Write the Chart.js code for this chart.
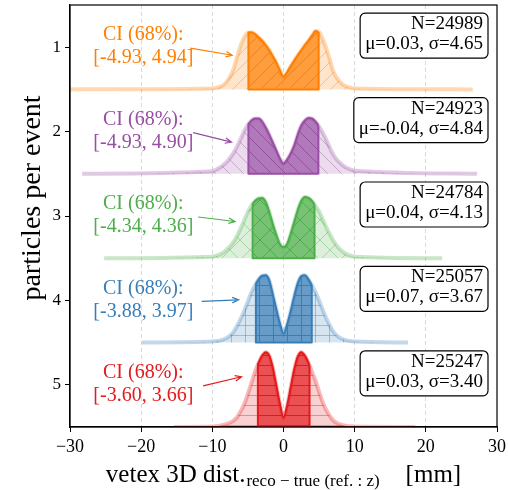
<!DOCTYPE html>
<html>
<head>
<meta charset="utf-8">
<script src="https://cdn.jsdelivr.net/npm/chart.js@4/dist/chart.umd.min.js"></script>
<style>
  html, body { margin: 0; padding: 0; background: #fff; }
  canvas { display: block; }
</style>
</head>
<body>
<canvas id="ridge" width="508" height="490"></canvas>
<script>
// Particles per event, one ridge per row (top to bottom)
const rowLabels = [1, 2, 3, 4, 5];

// Sample positions (mm) of the smoothed residual distributions
const gridX = [-10, -9.5, -9, -8.5, -8, -7.5, -7, -6.5, -6, -5.5, -5, -4.5, -4, -3.5, -3, -2.5, -2, -1.5, -1, -0.5,
               0, 0.5, 1, 1.5, 2, 2.5, 3, 3.5, 4, 4.5, 5, 5.5, 6, 6.5, 7, 7.5, 8, 8.5, 9, 9.5, 10];

// Relative density of the vertex residual at each gridX sample
const density1 = [1, 1.5, 2.5, 4, 7.5, 13, 21, 33, 44, 52, 56.5, 57, 55, 52, 48.5, 44, 39, 33, 26.5, 19,
                  12.5, 17, 23, 28.5, 34, 39, 44, 48.5, 53.5, 58, 57, 50.5, 41, 30, 18, 11.5, 7, 4, 2.5, 1.5, 1];
const density2 = [2.5, 4, 6, 8.5, 11.5, 16, 21, 27.5, 35, 43, 49, 53, 55, 55, 52, 46, 39, 31, 23, 15,
                  10, 14, 20, 28, 39, 48, 53, 55.5, 55, 52, 47, 41, 34, 26, 19, 14, 10.5, 7.5, 5.5, 4, 3];
const density3 = [1.5, 2.5, 3.5, 5.5, 8.5, 12, 16.5, 22.5, 30, 38, 46, 52.5, 57, 59.5, 60, 56, 46, 34, 23, 14,
                  11, 14, 24, 36, 48, 57, 61, 60, 57, 52, 46.5, 39, 31, 24, 17.5, 12.5, 8.5, 5.5, 3.5, 2.5, 1.5];
const density4 = [1, 1.5, 2, 3, 4.5, 7, 11, 17, 24, 32, 41, 50, 57, 63, 66.5, 67, 62, 48, 33, 19,
                  9, 18, 31, 46, 59, 66, 67, 63, 57, 50, 42, 33, 24.5, 17, 11, 7, 4.5, 3, 2, 1.5, 1];
const density5 = [0.5, 0.8, 1.2, 2, 3, 4.5, 6.5, 10, 16, 23, 33, 44, 55, 64, 71, 74.5, 71, 59, 41, 23,
                  9.5, 21, 39, 57, 70, 74.5, 71, 64, 55, 46, 35, 25, 17, 11, 6.5, 4, 2.5, 1.5, 1, 0.7, 0.5];
const densities = [density1, density2, density3, density4, density5];

// Full extent of each sample (mm)
const rangeLow  = [-32, -28.3, -25.2, -19.9, -15.4];
const rangeHigh = [26.6, 27.2, 22.3, 17.5, 18.5];

// 68% confidence intervals (mm)
const ciLow  = [-4.93, -4.93, -4.34, -3.88, -3.60];
const ciHigh = [4.94, 4.90, 4.36, 3.97, 3.66];

// Summary statistics per row
const nEvents = [24989, 24923, 24784, 25057, 25247];
const meanMu  = [0.03, -0.04, 0.04, 0.07, 0.03];
const sigmas  = [4.65, 4.84, 4.13, 3.67, 3.40];

// x-axis tick values (mm)
const xTicks = [-30, -20, -10, 0, 10, 20, 30];

// ---- styling ----
const colors  = ['#ff7f00', '#984ea3', '#4daf4a', '#377eb8', '#e41a1c'];
const hatches = ['/', '\\', 'x', '+', '-'];
const SERIF = '"Liberation Serif", "Times New Roman", serif';
const ridgeScale = 1 / 84;   // density units -> row units
const baseOffset = 0.5;      // ridge baseline sits half a row below its tick

// Callout geometry (axis units): arrow start x, arrow tip x, tip shift in rows
const callouts = [
  { fromX: -13.1, toX: -7.2, dy: 0.095 },
  { fromX: -12.7, toX: -7.3, dy: 0.125 },
  { fromX: -12.0, toX: -6.8, dy: 0.065 },
  { fromX: -11.5, toX: -6.3, dy: -0.006 },
  { fromX: -11.3, toX: -5.9, dy: -0.095 }
];
const labelCenterX = -19.7;

function rgba(hex, a) {
  const n = parseInt(hex.slice(1), 16);
  return `rgba(${(n >> 16) & 255},${(n >> 8) & 255},${n & 255},${a})`;
}

function hatchFill(kind, bg, line) {
  let w = 14, h = 14;
  if (kind === '+' || kind === '-') h = 10;
  if (kind === 'x') { w = 20; h = 20; }
  const c = document.createElement('canvas');
  c.width = w; c.height = h;
  const g = c.getContext('2d');
  g.fillStyle = bg;
  g.fillRect(0, 0, w, h);
  g.strokeStyle = line;
  g.lineWidth = 1;
  g.beginPath();
  const ne = () => { for (let k = -1; k <= 1; k++) { g.moveTo(k * w, h); g.lineTo(k * w + w, 0); } };
  const se = () => { for (let k = -1; k <= 1; k++) { g.moveTo(k * w, 0); g.lineTo(k * w + w, h); } };
  const vx = () => { g.moveTo(Math.floor(w / 2) + 0.5, 0); g.lineTo(Math.floor(w / 2) + 0.5, h); };
  const hz = () => { g.moveTo(0, Math.floor(h / 2) + 0.5); g.lineTo(w, Math.floor(h / 2) + 0.5); };
  if (kind === '/') ne();
  if (kind === '\\') se();
  if (kind === 'x') { ne(); se(); }
  if (kind === '+') { vx(); hz(); }
  if (kind === '-') hz();
  g.stroke();
  return g.createPattern(c, 'repeat');
}

function densityAt(dens, x) {
  for (let j = 0; j < gridX.length - 1; j++) {
    if (x >= gridX[j] && x <= gridX[j + 1]) {
      const t = (x - gridX[j]) / (gridX[j + 1] - gridX[j]);
      return dens[j] + t * (dens[j + 1] - dens[j]);
    }
  }
  return 0;
}

const datasets = [];
rowLabels.forEach((row, i) => {
  const base = row + baseOffset;
  const dens = densities[i];
  const col = colors[i];

  // full distribution
  const full = [{ x: rangeLow[i], y: base }];
  gridX.forEach((x, j) => full.push({ x, y: base - dens[j] * ridgeScale }));
  full.push({ x: rangeHigh[i], y: base });
  datasets.push({
    data: full,
    borderColor: rgba(col, 0.3),
    borderWidth: 4,
    backgroundColor: hatchFill(hatches[i], rgba(col, 0.2), rgba(col, 0.4)),
    fill: { value: base },
    pointRadius: 0,
    cubicInterpolationMode: 'monotone',
    clip: 0
  });

  // 68% interval: curve top (filled down to the baseline)
  const lo = ciLow[i], hi = ciHigh[i];
  const yLo = base - densityAt(dens, lo) * ridgeScale;
  const yHi = base - densityAt(dens, hi) * ridgeScale;
  const top = [{ x: lo, y: yLo }];
  gridX.forEach((x, j) => { if (x > lo && x < hi) top.push({ x, y: base - dens[j] * ridgeScale }); });
  top.push({ x: hi, y: yHi });
  datasets.push({
    data: top,
    borderColor: col,
    borderWidth: 2,
    borderJoinStyle: 'round',
    backgroundColor: hatchFill(hatches[i], rgba(col, 0.7), col),
    fill: { value: base },
    pointRadius: 0,
    cubicInterpolationMode: 'monotone',
    clip: 0
  });
  // side and bottom edges of the interval region
  datasets.push({
    data: [{ x: lo, y: yLo }, { x: lo, y: base }, { x: hi, y: base }, { x: hi, y: yHi }],
    borderColor: col,
    borderWidth: 2,
    borderJoinStyle: 'round',
    fill: false,
    pointRadius: 0,
    tension: 0,
    clip: 0
  });
});

const decorations = {
  id: 'decorations',
  afterDatasetsDraw(chart) {
    const { ctx, chartArea: a, scales: { x, y } } = chart;
    ctx.save();
    rowLabels.forEach((row, i) => {
      const cy = y.getPixelForValue(row);
      const col = colors[i];

      // interval callout text
      ctx.fillStyle = col;
      ctx.font = `20px ${SERIF}`;
      ctx.textAlign = 'center';
      ctx.textBaseline = 'middle';
      const lx = x.getPixelForValue(labelCenterX);
      ctx.fillText('CI (68%):', lx, cy - 12);
      ctx.fillText(`[${ciLow[i].toFixed(2)}, ${ciHigh[i].toFixed(2)}]`, lx, cy + 11);

      // arrow
      const c = callouts[i];
      const x0 = x.getPixelForValue(c.fromX), y0 = cy + 1;
      const x1 = x.getPixelForValue(c.toX), y1 = y.getPixelForValue(row + c.dy);
      const ang = Math.atan2(y1 - y0, x1 - x0);
      ctx.strokeStyle = col;
      ctx.lineWidth = 1.2;
      ctx.beginPath();
      ctx.moveTo(x0, y0); ctx.lineTo(x1, y1);
      ctx.moveTo(x1 - 7 * Math.cos(ang - 0.4), y1 - 7 * Math.sin(ang - 0.4));
      ctx.lineTo(x1, y1);
      ctx.lineTo(x1 - 7 * Math.cos(ang + 0.4), y1 - 7 * Math.sin(ang + 0.4));
      ctx.stroke();

      // statistics box
      ctx.font = `19px ${SERIF}`;
      const l1 = `N=${nEvents[i]}`;
      const l2 = `\u03bc=${meanMu[i].toFixed(2)}, \u03c3=${sigmas[i].toFixed(2)}`;
      const tw = Math.max(ctx.measureText(l1).width, ctx.measureText(l2).width);
      const right = a.right - 9, top = cy - 34, h = 45, w = tw + 10;
      ctx.beginPath();
      ctx.roundRect(right - w, top, w, h, 5);
      ctx.fillStyle = '#fff';
      ctx.fill();
      ctx.strokeStyle = '#000';
      ctx.lineWidth = 1.2;
      ctx.stroke();
      ctx.fillStyle = '#000';
      ctx.textAlign = 'right';
      ctx.fillText(l1, right - 5, top + 11);
      ctx.fillText(l2, right - 5, top + 31);
    });

    // frame
    ctx.strokeStyle = '#000';
    ctx.lineWidth = 1.2;
    ctx.strokeRect(a.left, a.top, a.right - a.left, a.bottom - a.top);
    ctx.restore();
  },
  afterDraw(chart) {
    const { ctx, chartArea: a } = chart;
    ctx.save();
    ctx.fillStyle = '#000';
    // y title
    ctx.translate(33, 198);
    ctx.rotate(-Math.PI / 2);
    ctx.font = `28px ${SERIF}`;
    ctx.textAlign = 'center';
    ctx.textBaseline = 'middle';
    ctx.fillText('particles per event', 0, 0);
    ctx.setTransform(1, 0, 0, 1, 0, 0);

    // x title with subscript
    const mainFont = `25px ${SERIF}`, subFont = `17px ${SERIF}`;
    const main = 'vetex 3D dist.', sub = 'reco \u2212 true (ref. : z)', unit = '[mm]';
    ctx.font = mainFont;
    const wMain = ctx.measureText(main).width, wUnit = ctx.measureText(unit).width;
    ctx.font = subFont;
    const wSub = ctx.measureText(sub).width;
    const gap = 26;
    const total = wMain + 1 + wSub + gap + wUnit;
    let px = (a.left + a.right) / 2 - total / 2;
    const baseY = 482;
    ctx.textAlign = 'left';
    ctx.textBaseline = 'alphabetic';
    ctx.font = mainFont;
    ctx.fillText(main, px, baseY);
    px += wMain + 1;
    ctx.font = subFont;
    ctx.fillText(sub, px, baseY + 4);
    px += wSub + gap;
    ctx.font = mainFont;
    ctx.fillText(unit, px, baseY);
    ctx.restore();
  }
};

new Chart(document.getElementById('ridge'), {
  type: 'line',
  data: { datasets },
  options: {
    responsive: false,
    animation: false,
    events: [],
    layout: { padding: { top: 5, right: 11, left: 0, bottom: 0 } },
    plugins: { legend: { display: false }, tooltip: { enabled: false } },
    scales: {
      x: {
        type: 'linear', min: -30, max: 30,
        afterBuildTicks: s => { s.ticks = xTicks.map(v => ({ value: v })); },
        afterFit: s => { s.height = 63; s.paddingLeft = 0; s.paddingRight = 0; },
        ticks: {
          font: { family: SERIF, size: 18 }, color: '#000', padding: 4,
          maxRotation: 0, autoSkip: false,
          callback: v => (v < 0 ? '\u2212' + Math.abs(v) : String(v))
        },
        grid: {
          color: c => (c.tick && Math.abs(c.tick.value) === 30 ? 'rgba(0,0,0,0)' : '#cfcfcf'),
          lineWidth: 0.8, tickColor: '#000', tickLength: 5, tickWidth: 1, tickBorderDash: []
        },
        border: { display: true, color: '#000', width: 1.2, dash: [4, 3] }
      },
      y: {
        type: 'linear', reverse: true, min: 0.5, max: 5.5,
        afterBuildTicks: s => { s.ticks = rowLabels.map(v => ({ value: v })); },
        afterFit: s => { s.width = 70; s.paddingTop = 0; s.paddingBottom = 0; },
        ticks: { font: { family: SERIF, size: 17 }, color: '#000', padding: 4, callback: v => String(v) },
        grid: { drawOnChartArea: false, drawTicks: true, tickLength: 5, tickColor: '#000', tickWidth: 1 },
        border: { display: true, color: '#000', width: 1.2 }
      }
    }
  },
  plugins: [decorations]
});
</script>
</body>
</html>
